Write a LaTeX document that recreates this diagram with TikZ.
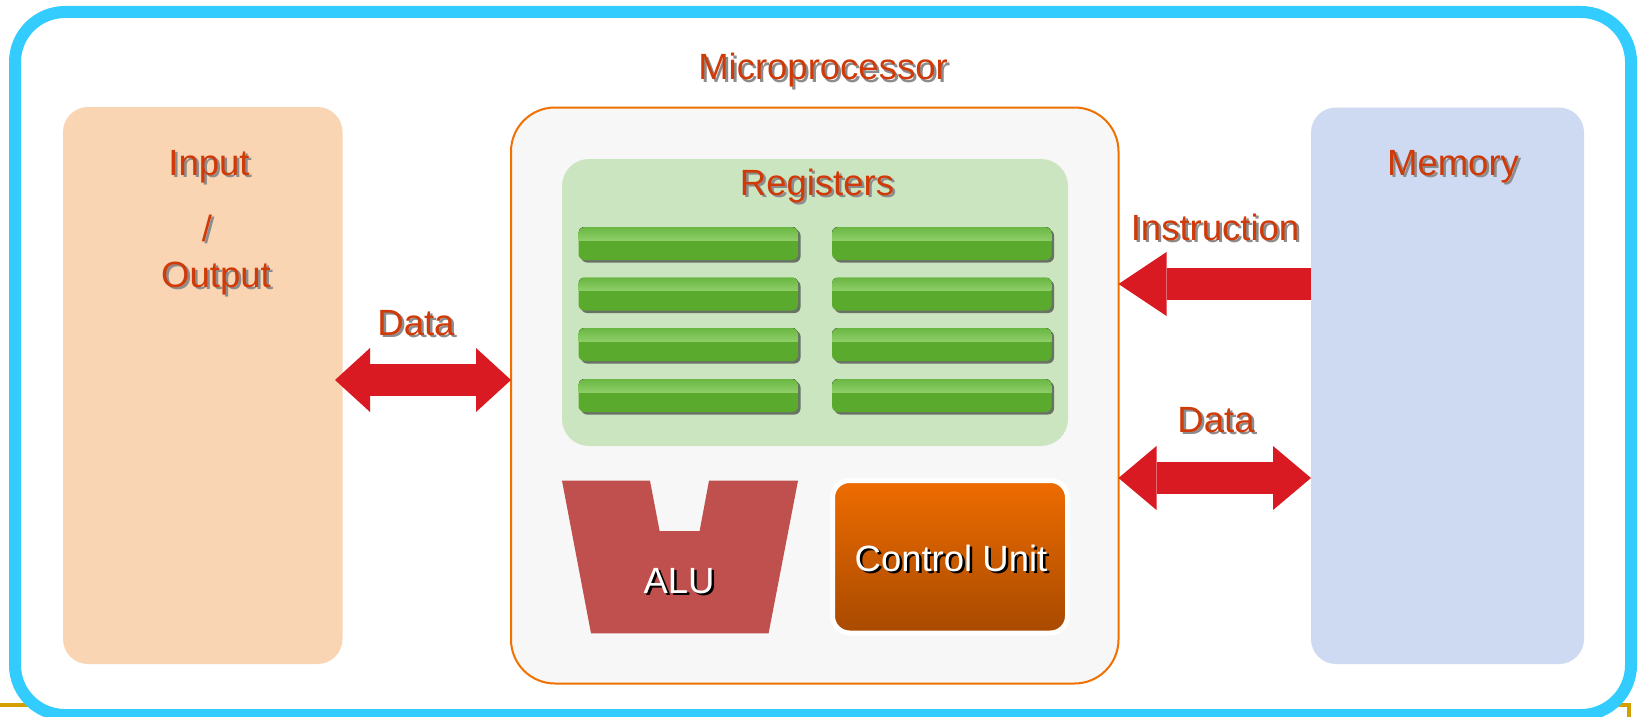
\documentclass[tikz,border=0pt]{standalone}
\usepackage{fontspec}
\setmainfont{Liberation Sans}
\usetikzlibrary{arrows.meta}

\definecolor{framecol}{RGB}{51,204,255}
\definecolor{goldcol}{RGB}{212,160,0}
\definecolor{iocol}{RGB}{250,213,180}
\definecolor{mpfill}{RGB}{247,247,247}
\definecolor{mpline}{RGB}{240,112,0}
\definecolor{regcol}{RGB}{203,229,192}
\definecolor{memcol}{RGB}{206,218,242}
\definecolor{barcol}{RGB}{90,170,45}
\definecolor{barhitop}{RGB}{105,182,66}
\definecolor{barhibot}{RGB}{142,206,104}
\definecolor{barshadow}{RGB}{105,115,100}
\definecolor{alucol}{RGB}{192,80,77}
\definecolor{cutop}{RGB}{238,108,0}
\definecolor{cubot}{RGB}{168,74,0}
\definecolor{arrowred}{RGB}{218,26,34}
\definecolor{labelred}{RGB}{208,58,8}
\definecolor{labelshadow}{RGB}{140,140,140}

% text with a drop shadow: #1 text colour, #2 shadow colour, #3 text
\newcommand{\shtxt}[3]{\makebox[0pt][l]{\hspace*{2.5pt}\raisebox{-2.5pt}{\textcolor{#2}{#3}}}\textcolor{#1}{#3}}

\begin{document}
\begin{tikzpicture}[x=1pt,y=-1pt,
  lbl/.style={inner sep=0pt, outer sep=0pt, anchor=base,
    font=\fontsize{36.5}{40}\selectfont},
  panel/.style={inner sep=0pt, outer sep=0pt, draw=none},
  bigarrow/.style={draw=arrowred, line width=32pt}]

\useasboundingbox (0,0) rectangle (1638,717);
\clip (0,0) rectangle (1638,717);

% slide border line behind the frame
\draw[goldcol, line width=4pt] (0,705) -- (1629,705) -- (1629,717);

% outer frame
\draw[framecol, line width=12pt, fill=white, rounded corners=50pt]
  (15,12) rectangle (1631,715);

% main blocks
\node[panel, fill=iocol, rounded corners=25pt,
  minimum width=279.5pt, minimum height=557pt] (io) at (202.75,385.5) {};
\node[panel, fill=mpfill, draw=mpline, line width=2pt, rounded corners=44pt,
  minimum width=607.5pt, minimum height=576pt] (mp) at (814.75,395.5) {};
\node[panel, fill=regcol, rounded corners=27pt,
  minimum width=506pt, minimum height=287pt] (reg) at (815,302.5) {};
\node[panel, fill=memcol, rounded corners=25pt,
  minimum width=273pt, minimum height=556.5pt] (mem) at (1447.5,385.75) {};

% register bars
\foreach \bx in {578.5,832}{
  \foreach \by in {227,277.5,328,379}{
    \fill[barshadow, rounded corners=6pt]
      (\bx+2.5,\by+2.5) rectangle (\bx+222,\by+35.5);
    \fill[barcol, rounded corners=6pt]
      (\bx,\by) rectangle (\bx+219.5,\by+33);
    \begin{scope}
      \clip[rounded corners=6pt] (\bx,\by) rectangle (\bx+219.5,\by+33);
      \fill[top color=barhitop, bottom color=barhibot]
        (\bx,\by) rectangle (\bx+219.5,\by+13);
    \end{scope}
  }
}

% ALU
\fill[alucol] (562,480.7) -- (650,480.7) -- (659.6,531) -- (699.6,531)
  -- (709,480.7) -- (798,480.7) -- (768.6,633.3) -- (591,633.3) -- cycle;

% control unit
\node[panel, draw=white, line width=5pt, rounded corners=17pt,
  top color=cutop, bottom color=cubot,
  minimum width=235pt, minimum height=152.5pt] (cu) at (950,556.75) {};

% labels
\node[lbl] (tmp) at (823,80) {\shtxt{labelred}{labelshadow}{Microprocessor}};
\node[lbl] (tin) at (209,175) {\shtxt{labelred}{labelshadow}{Input}};
\node[lbl] (tsl) at (207,241) {\shtxt{labelred}{labelshadow}{/}};
\node[lbl] (tout) at (216,287) {\shtxt{labelred}{labelshadow}{Output}};
\node[lbl] (treg) at (817,195) {\shtxt{labelred}{labelshadow}{Registers}};
\node[lbl] (tmem) at (1453,175) {\shtxt{labelred}{labelshadow}{Memory}};
\node[lbl] (tins) at (1215,240) {\shtxt{labelred}{labelshadow}{Instruction}};
\node[lbl] (tdl) at (416,335) {\shtxt{labelred}{labelshadow}{Data}};
\node[lbl] (tdr) at (1216,432) {\shtxt{labelred}{labelshadow}{Data}};
\node[lbl] (talu) at (679,593) {\shtxt{white}{black}{ALU}};
\node[lbl] (tcu) at (951,571) {\shtxt{white}{black}{Control Unit}};

% buses
\draw[bigarrow,
  {Triangle[length=35pt,width=64pt,line width=0pt]}-{Triangle[length=35pt,width=64pt,line width=0pt]}]
  ([xshift=-7.5pt]io.east |- 0,380) -- (mp.west |- 0,380);
\draw[bigarrow, -{Triangle[length=48pt,width=64pt,line width=0pt]}]
  (mem.west |- 0,284) -- (mp.east |- 0,284);
\draw[bigarrow,
  {Triangle[length=38pt,width=64pt,line width=0pt]}-{Triangle[length=38pt,width=64pt,line width=0pt]}]
  (mp.east |- 0,478) -- (mem.west |- 0,478);

\end{tikzpicture}
\end{document}
